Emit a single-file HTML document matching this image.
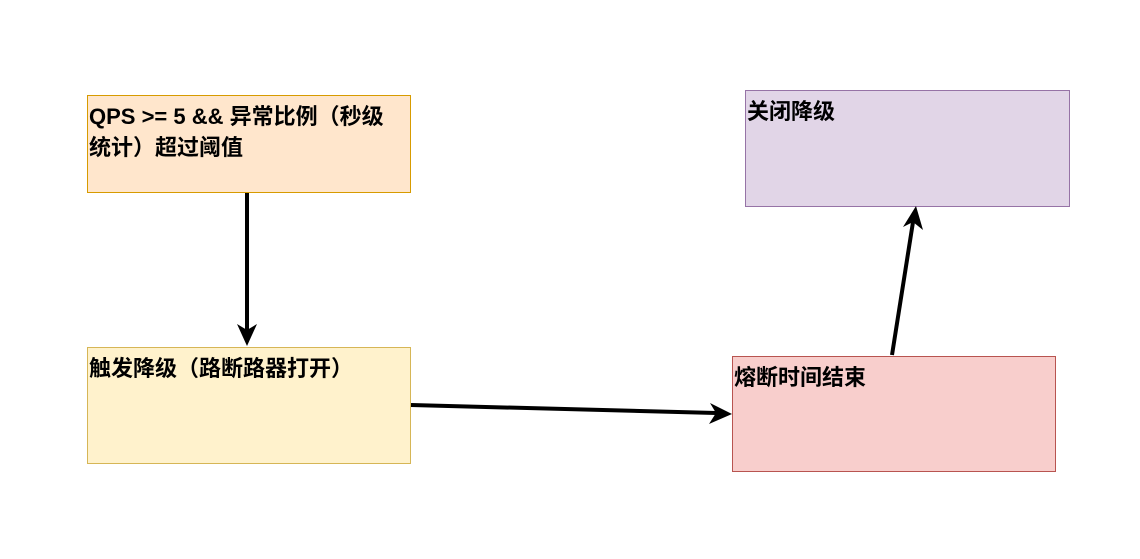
<!DOCTYPE html>
<html><head><meta charset="utf-8"><style>
body{margin:0;width:1140px;height:559px;background:#fff;position:relative;overflow:hidden;font-family:"Liberation Sans","Noto Sans CJK SC",sans-serif}
.b{position:absolute;box-sizing:border-box;border:1px solid;font-weight:bold;font-size:22px;line-height:31px;padding:5px 1px;color:#000;white-space:nowrap}
</style></head><body>
<div class="b" style="left:87px;top:95px;width:324px;height:98px;background:#ffe6cc;border-color:#d79b00">QPS &gt;= 5 &amp;&amp; 异常比例（秒级<br>统计）超过阈值</div>
<div class="b" style="left:87px;top:347px;width:324px;height:117px;background:#fff2cc;border-color:#d6b656">触发降级（路断路器打开）</div>
<div class="b" style="left:732px;top:356px;width:324px;height:116px;background:#f8cecc;border-color:#b85450">熔断时间结束</div>
<div class="b" style="left:745px;top:90px;width:325px;height:117px;background:#e1d5e7;border-color:#9673a6">关闭降级</div>
<svg width="1140" height="559" style="position:absolute;left:0;top:0">
<g stroke="#000" stroke-width="4" fill="none">
<line x1="247" y1="193" x2="247" y2="330"/>
<line x1="411" y1="405" x2="716" y2="413"/>
<line x1="892" y1="355" x2="913" y2="222"/>
</g>
<g fill="#000">
<polygon points="247,346 237,324 247,330 257,324"/>
<polygon points="732,414 709,424 716,413 710,403"/>
<polygon points="916,206 923,230 913,222 903,227"/>
</g>
</svg>
</body></html>
